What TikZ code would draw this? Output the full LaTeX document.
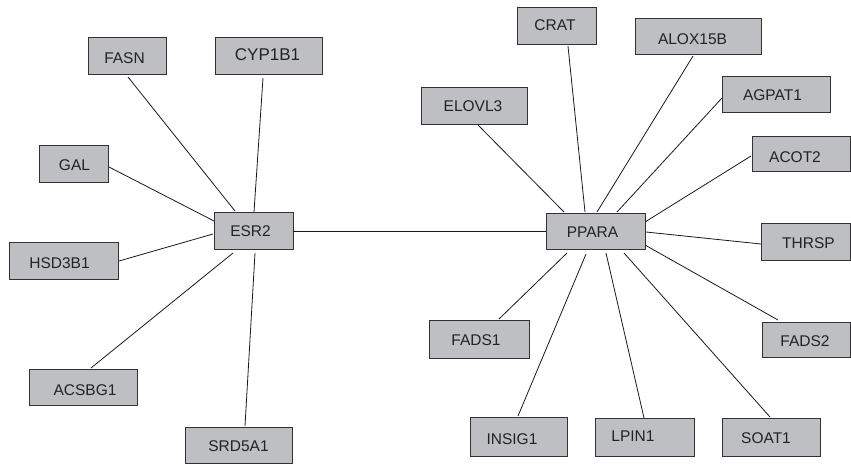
\documentclass[tikz,border=0pt]{standalone}
\usepackage{fontspec}
\setmainfont{Liberation Sans}
\usetikzlibrary{calc}
\definecolor{boxfill}{RGB}{190,191,195}
\definecolor{boxline}{RGB}{50,50,52}
\definecolor{txt}{RGB}{35,35,35}
\tikzset{
  gbox/.style n args={2}{draw=boxline, fill=boxfill, line width=1pt, inner sep=0pt, minimum width=#1, minimum height=#2},
  glab/.style={font=\fontsize{15.5}{16}\selectfont, text=txt, inner sep=0pt},
  glabbig/.style={font=\fontsize{17}{18}\selectfont, text=txt, inner sep=0pt},
  link/.style={draw=black!90, line width=0.8pt},
}
% name, x, y, w, h, text xshift, text yshift (canvas), label style, text
\newcommand\gene[9]{\node[gbox={#4pt}{#5pt}, label={[#8, xshift=#6pt, yshift=#7pt]center:#9}] (#1) at (#2,#3) {};}
\begin{document}
\begin{tikzpicture}[x=1pt,y=-1pt]
\useasboundingbox (0,0) rectangle (851,464);
\gene{fasn}{127}{55.5}{78}{37}{-2.5}{-3}{glab}{FASN}
\gene{cyp}{268.5}{55.5}{107}{37}{-1}{1}{glabbig}{CYP1B1}
\gene{gal}{73.5}{163.5}{69}{37}{1}{-2}{glab}{GAL}
\gene{esr2}{253.5}{230.5}{79}{37}{-3}{-1}{glab}{ESR2}
\gene{hsd}{63.5}{260.5}{109}{37}{-4}{-2.5}{glab}{HSD3B1}
\gene{acsbg}{83}{387}{108}{36}{2}{-3}{glab}{ACSBG1}
\gene{srd}{238.5}{445}{107}{36}{0}{-1}{glab}{SRD5A1}
\gene{crat}{556.5}{25.5}{79}{37}{-1.5}{0}{glab}{CRAT}
\gene{alox}{698}{36}{126}{36}{-5.5}{-3}{glab}{ALOX15B}
\gene{agpat}{776}{94}{108}{36}{-3.5}{-1.5}{glab}{AGPAT1}
\gene{elovl}{474}{105.5}{106}{37}{-1}{-0.5}{glab}{ELOVL3}
\gene{acot}{801}{153.5}{98}{35}{-6}{-3.5}{glab}{ACOT2}
\gene{ppara}{595.5}{231}{99}{36}{-3}{-1.5}{glab}{PPARA}
\gene{thrsp}{805.5}{241.5}{89}{37}{3}{-1.5}{glab}{THRSP}
\gene{fadsa}{479}{339}{100}{38}{-3}{-1}{glab}{FADS1}
\gene{fadsb}{806}{339.5}{88}{35}{-1}{-1.5}{glab}{FADS2}
\gene{insig}{518.5}{436.5}{97}{39}{-6.5}{-2.5}{glab}{INSIG1}
\gene{lpin}{644.5}{437}{99}{38}{-11.5}{1}{glab}{LPIN1}
\gene{soat}{771}{437}{98}{38}{-5}{-1}{glab}{SOAT1}
% ESR2 links
\draw[link] ($(fasn)+(1,21.5)$) -- ($(esr2)+(-18.5,-19.5)$);
\draw[link] ($(cyp)+(-5.5,22.5)$) -- ($(esr2)+(0.5,-18.5)$);
\draw[link] ($(gal)+(35.5,3.5)$) -- ($(esr2)+(-39.5,-9.5)$);
\draw[link] ($(hsd)+(55.5,0.5)$) -- ($(esr2)+(-40.5,3.5)$);
\draw[link] ($(acsbg)+(8,-19)$) -- ($(esr2)+(-20.5,22.5)$);
\draw[link] ($(srd)+(6.5,-19)$) -- ($(esr2)+(1.5,22.5)$);
\draw[link] ($(esr2)+(39.5,0.5)$) -- ($(ppara)+(-49.5,0)$);
% PPARA links
\draw[link] ($(elovl)+(4,19.5)$) -- ($(ppara)+(-31.5,-19)$);
\draw[link] ($(crat)+(11.5,20.5)$) -- ($(ppara)+(-10.5,-19)$);
\draw[link] ($(alox)+(-5,20)$) -- ($(ppara)+(1.5,-19)$);
\draw[link] ($(agpat)+(-54,4)$) -- ($(ppara)+(21.5,-19)$);
\draw[link] ($(acot)+(-50,2.5)$) -- ($(ppara)+(49.5,-9)$);
\draw[link] ($(thrsp)+(-44.5,2.5)$) -- ($(ppara)+(50.5,1)$);
\draw[link] ($(fadsa)+(20,-20)$) -- ($(ppara)+(-28.5,22)$);
\draw[link] ($(insig)+(-0.5,-20.5)$) -- ($(ppara)+(-9.5,23)$);
\draw[link] ($(lpin)+(-0.5,-19)$) -- ($(ppara)+(10.5,22)$);
\draw[link] ($(soat)+(-1,-20)$) -- ($(ppara)+(28.5,22)$);
\draw[link] ($(fadsb)+(-28,-19.5)$) -- ($(ppara)+(49.5,14)$);
\end{tikzpicture}
\end{document}
